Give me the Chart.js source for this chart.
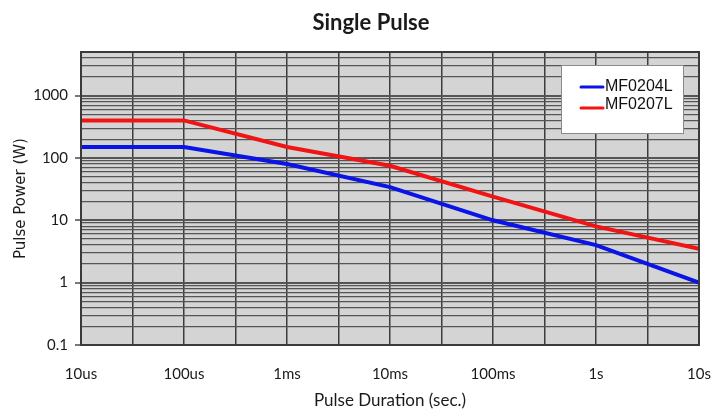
<!DOCTYPE html>
<html>
<head>
<meta charset="utf-8">
<script src="https://cdn.jsdelivr.net/npm/chart.js@4.4.1/dist/chart.umd.min.js"></script>
<style>
  html, body { margin: 0; padding: 0; background: #fff; }
  #wrap { width: 725px; height: 419px; }
</style>
</head>
<body>
<div id="wrap"><canvas id="pulseChart"></canvas></div>
<script>
// Pulse durations in seconds and their axis labels
const durations = [1e-5, 1e-4, 1e-3, 1e-2, 1e-1, 1, 10];
const durationLabels = ['10us', '100us', '1ms', '10ms', '100ms', '1s', '10s'];

// Pulse power (W)
const mf0204l = [150, 150, 80, 34, 10, 4, 1];
const mf0207l = [400, 400, 150, 75, 24, 8, 3.5];

// Y axis decades that get a label
const powerDecades = [0.1, 1, 10, 100, 1000];
const powerLabels = ['0.1', '1', '10', '100', '1000'];
const powerMin = 0.1;
const powerMax = 5000;

const chartTitle = 'Single Pulse';

const isDecade = v => Math.abs(Math.log10(v) - Math.round(Math.log10(v))) < 1e-6;

// grey plot background, frame and the title
const plotBackground = {
    id: 'plotBackground',
    beforeDraw(chart) {
        const { ctx, chartArea: a } = chart;
        ctx.save();
        ctx.fillStyle = '#d4d4d4';
        ctx.fillRect(a.left, a.top, a.right - a.left, a.bottom - a.top);
        ctx.restore();
    },
    afterDraw(chart) {
        const { ctx, chartArea: a } = chart;
        ctx.save();
        ctx.strokeStyle = '#3a3a3a';
        ctx.lineWidth = 2;
        ctx.strokeRect(a.left, a.top, a.right - a.left, a.bottom - a.top);
        // title sits a bit right of the canvas centre
        ctx.fillStyle = '#1a1a1a';
        ctx.font = 'bold 22px Lato';
        ctx.textAlign = 'center';
        ctx.textBaseline = 'middle';
        ctx.fillText(chartTitle, 371, 23);
        ctx.restore();
    }
};

// boxed legend inside the plot, top right
const boxLegend = {
    id: 'boxLegend',
    afterDraw(chart) {
        const { ctx } = chart;
        const x = 561, y = 65, w = 122, h = 68;
        ctx.save();
        ctx.fillStyle = '#fff';
        ctx.fillRect(x, y, w, h);
        ctx.strokeStyle = '#8a8a8a';
        ctx.lineWidth = 1;
        ctx.strokeRect(x + 0.5, y + 0.5, w, h);
        ctx.font = '16px "Liberation Sans", Arial, sans-serif';
        ctx.textBaseline = 'middle';
        chart.data.datasets.forEach((ds, i) => {
            const rowY = y + 22 + i * 18;
            ctx.strokeStyle = ds.borderColor;
            ctx.lineWidth = 3;
            ctx.lineCap = 'round';
            ctx.beginPath();
            ctx.moveTo(581, rowY + (i ? 3 : 0));
            ctx.lineTo(603, rowY + (i ? 3 : 0));
            ctx.stroke();
            ctx.fillStyle = '#111';
            ctx.fillText(ds.label, 605, rowY);
        });
        ctx.restore();
    }
};

const ctx = document.getElementById('pulseChart').getContext('2d');
const pulseChart = new Chart(ctx, {
    type: 'line',
    data: {
        datasets: [{
            label: 'MF0204L',
            data: durations.map((d, i) => ({ x: d, y: mf0204l[i] })),
            borderColor: '#0a14e6',
            borderWidth: 4,
            pointRadius: 0,
            tension: 0
        }, {
            label: 'MF0207L',
            data: durations.map((d, i) => ({ x: d, y: mf0207l[i] })),
            borderColor: '#f01414',
            borderWidth: 4,
            pointRadius: 0,
            tension: 0
        }]
    },
    options: {
        responsive: true,
        maintainAspectRatio: false,
        animation: false,
        layout: { padding: { left: 0, right: 26, top: 52, bottom: 0 } },
        scales: {
            x: {
                type: 'logarithmic',
                min: durations[0],
                max: durations[durations.length - 1],
                afterBuildTicks: scale => {
                    const ticks = [];
                    for (let k = 0; k <= 12; k++) ticks.push({ value: Math.pow(10, -5 + k / 2) });
                    scale.ticks = ticks;
                },
                afterFit: scale => {
                    scale.height = 74;
                    scale.paddingRight = 0;
                    scale.paddingLeft = 0;
                },
                ticks: {
                    autoSkip: false,
                    maxRotation: 0,
                    padding: 20,
                    color: '#1a1a1a',
                    font: { family: 'Lato', size: 15 },
                    callback: value => {
                        if (!isDecade(value)) return '';
                        const i = durations.findIndex(d => Math.abs(Math.log10(d) - Math.log10(value)) < 1e-6);
                        return i >= 0 ? durationLabels[i] : '';
                    }
                },
                grid: { color: '#3c3c3c', lineWidth: 1.5, drawTicks: false },
                border: { display: false },
                title: {
                    display: true,
                    text: 'Pulse Duration (sec.)',
                    color: '#1a1a1a',
                    font: { family: 'Lato', size: 17 },
                    padding: { top: 0, bottom: 8 }
                }
            },
            y: {
                type: 'logarithmic',
                min: powerMin,
                max: powerMax,
                afterBuildTicks: scale => {
                    const ticks = [];
                    powerDecades.forEach(dec => {
                        for (let m = 1; m <= 9; m++) {
                            const v = dec * m;
                            if (v <= powerMax + 1e-9) ticks.push({ value: v });
                        }
                    });
                    scale.ticks = ticks;
                },
                afterFit: scale => {
                    scale.width = 81;
                    scale.paddingTop = 0;
                    scale.paddingBottom = 0;
                },
                ticks: {
                    autoSkip: false,
                    padding: 7,
                    color: '#1a1a1a',
                    font: { family: 'Lato', size: 15 },
                    callback: value => {
                        const i = powerDecades.findIndex(d => Math.abs(Math.log10(d) - Math.log10(value)) < 1e-6);
                        return i >= 0 ? powerLabels[i] : '';
                    }
                },
                grid: {
                    color: '#555',
                    lineWidth: c => (c.tick && isDecade(c.tick.value)) ? 2 : 1.3,
                    tickLength: 6,
                    tickColor: c => (c.tick && isDecade(c.tick.value)) ? '#777' : 'rgba(0,0,0,0)'
                },
                border: { display: false },
                title: {
                    display: true,
                    text: 'Pulse Power (W)',
                    color: '#1a1a1a',
                    font: { family: 'DejaVu Sans', size: 15 },
                    padding: { top: 12, bottom: 0 }
                }
            }
        },
        plugins: {
            legend: { display: false },
            tooltip: { enabled: false },
            title: { display: false }
        }
    },
    plugins: [plotBackground, boxLegend]
});
</script>
</body>
</html>
